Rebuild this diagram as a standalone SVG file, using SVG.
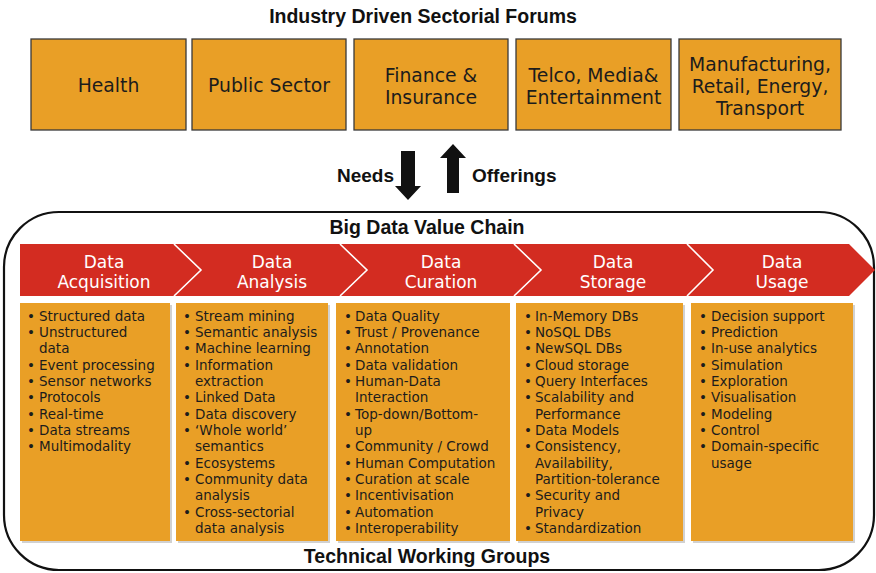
<svg xmlns="http://www.w3.org/2000/svg" width="876" height="573" viewBox="0 0 876 573">
<style>
.title{font-family:"Liberation Sans",Arial,sans-serif;font-weight:bold;font-size:19.5px;fill:#111;text-anchor:middle}
.lbl{font-family:"Liberation Sans",Arial,sans-serif;font-weight:bold;font-size:19px;fill:#111}
.sector{fill:#E99F26;stroke:#3a3a3a;stroke-width:1.3}
.stxt{font-family:"DejaVu Sans",Verdana,sans-serif;font-size:18.8px;fill:#1c1c1c;text-anchor:middle}
.chev{fill:#D32C21}
.sep{fill:none;stroke:#fff;stroke-width:1.6}
.ctxt{font-family:"DejaVu Sans",Verdana,sans-serif;font-size:17px;fill:#fff;text-anchor:middle}
.box{fill:#E99F26}
.shadow{fill:#999;opacity:0.45}
.btxt{font-family:"DejaVu Sans",Verdana,sans-serif;font-size:13.5px;fill:#1c1c1c}
.bul{font-family:"DejaVu Sans",Verdana,sans-serif;font-size:13.5px;fill:#1c1c1c;text-anchor:middle}
.arrow{fill:#111}
</style>

<text class="title" x="423" y="23">Industry Driven Sectorial Forums</text>

<g id="sector-health"><rect class="sector" x="31" y="39" width="155" height="91"/><text class="stxt" x="108.5" y="92">Health</text></g>
<g id="sector-public"><rect class="sector" x="192" y="39" width="154" height="91"/><text class="stxt" x="269" y="92">Public Sector</text></g>
<g id="sector-finance"><rect class="sector" x="354" y="39" width="154" height="91"/><text class="stxt" x="431" y="82">Finance &amp;</text><text class="stxt" x="431" y="104">Insurance</text></g>
<g id="sector-telco"><rect class="sector" x="516" y="39" width="155" height="91"/><text class="stxt" x="593.5" y="82">Telco, Media&amp;</text><text class="stxt" x="593.5" y="104">Entertainment</text></g>
<g id="sector-manufacturing"><rect class="sector" x="679" y="39" width="162" height="91"/><text class="stxt" x="760" y="71">Manufacturing,</text><text class="stxt" x="760" y="93">Retail, Energy,</text><text class="stxt" x="760" y="115">Transport</text></g>

<g id="connectors">
<polygon class="arrow" points="401,151 415,151 415,186 421,186 408,200 395,186 401,186"/>
<polygon class="arrow" points="447,193 459,193 459,158 466,158 453,144 440,158 447,158"/>
</g>
<text class="lbl" x="394" y="182" text-anchor="end">Needs</text>
<text class="lbl" x="472" y="182">Offerings</text>

<g id="value-chain">
<rect x="4" y="212" width="870" height="358" rx="55" ry="55" fill="none" stroke="#111" stroke-width="2.2"/>
<text class="title" x="427" y="234">Big Data Value Chain</text>
</g>

<g id="chain-acquisition"><polygon class="chev" points="20,244 174,244 201,270 174,296 20,296"/><text class="ctxt" x="104" y="268">Data</text><text class="ctxt" x="104" y="288">Acquisition</text></g>
<g id="chain-analysis"><polygon class="chev" points="174,244 340,244 367,270 340,296 174,296 201,270"/><text class="ctxt" x="272" y="268">Data</text><text class="ctxt" x="272" y="288">Analysis</text></g>
<g id="chain-curation"><polygon class="chev" points="340,244 514,244 541,270 514,296 340,296 367,270"/><text class="ctxt" x="441" y="268">Data</text><text class="ctxt" x="441" y="288">Curation</text></g>
<g id="chain-storage"><polygon class="chev" points="514,244 687,244 713,270 687,296 514,296 541,270"/><text class="ctxt" x="613" y="268">Data</text><text class="ctxt" x="613" y="288">Storage</text></g>
<g id="chain-usage"><polygon class="chev" points="687,244 849,244 875,270 849,296 687,296 713,270"/><text class="ctxt" x="782" y="268">Data</text><text class="ctxt" x="782" y="288">Usage</text></g>
<path class="sep" d="M174,244 L201,270 L174,296 M340,244 L367,270 L340,296 M514,244 L541,270 L514,296 M687,244 L713,270 L687,296"/>

<g id="tg-acquisition">
<rect class="shadow" x="22" y="305" width="150" height="238"/>
<rect class="box" x="20" y="303" width="150" height="238"/>
<text class="bul"><tspan x="31" y="320.5">•</tspan><tspan x="31" y="336.85">•</tspan><tspan x="31" y="369.55">•</tspan><tspan x="31" y="385.9">•</tspan><tspan x="31" y="402.25">•</tspan><tspan x="31" y="418.6">•</tspan><tspan x="31" y="434.95">•</tspan><tspan x="31" y="451.3">•</tspan></text>
<text class="btxt"><tspan x="39" y="320.5">Structured data</tspan><tspan x="39" y="336.85">Unstructured</tspan><tspan x="39" y="353.2">data</tspan><tspan x="39" y="369.55">Event processing</tspan><tspan x="39" y="385.9">Sensor networks</tspan><tspan x="39" y="402.25">Protocols</tspan><tspan x="39" y="418.6">Real-time</tspan><tspan x="39" y="434.95">Data streams</tspan><tspan x="39" y="451.3">Multimodality</tspan></text>
</g>

<g id="tg-analysis">
<rect class="shadow" x="178" y="305" width="152" height="238"/>
<rect class="box" x="176" y="303" width="152" height="238"/>
<text class="bul"><tspan x="187" y="320.5">•</tspan><tspan x="187" y="336.85">•</tspan><tspan x="187" y="353.2">•</tspan><tspan x="187" y="369.55">•</tspan><tspan x="187" y="402.25">•</tspan><tspan x="187" y="418.6">•</tspan><tspan x="187" y="434.95">•</tspan><tspan x="187" y="467.65">•</tspan><tspan x="187" y="484">•</tspan><tspan x="187" y="516.7">•</tspan></text>
<text class="btxt"><tspan x="195" y="320.5">Stream mining</tspan><tspan x="195" y="336.85">Semantic analysis</tspan><tspan x="195" y="353.2">Machine learning</tspan><tspan x="195" y="369.55">Information</tspan><tspan x="195" y="385.9">extraction</tspan><tspan x="195" y="402.25">Linked Data</tspan><tspan x="195" y="418.6">Data discovery</tspan><tspan x="195" y="434.95">‘Whole world’</tspan><tspan x="195" y="451.3">semantics</tspan><tspan x="195" y="467.65">Ecosystems</tspan><tspan x="195" y="484">Community data</tspan><tspan x="195" y="500.35">analysis</tspan><tspan x="195" y="516.7">Cross-sectorial</tspan><tspan x="195" y="533.05">data analysis</tspan></text>
</g>

<g id="tg-curation">
<rect class="shadow" x="338" y="305" width="172" height="238"/>
<rect class="box" x="336" y="303" width="174" height="238"/>
<text class="bul"><tspan x="348" y="320.5">•</tspan><tspan x="348" y="336.85">•</tspan><tspan x="348" y="353.2">•</tspan><tspan x="348" y="369.55">•</tspan><tspan x="348" y="385.9">•</tspan><tspan x="348" y="418.6">•</tspan><tspan x="348" y="451.3">•</tspan><tspan x="348" y="467.65">•</tspan><tspan x="348" y="484">•</tspan><tspan x="348" y="500.35">•</tspan><tspan x="348" y="516.7">•</tspan><tspan x="348" y="533.05">•</tspan></text>
<text class="btxt"><tspan x="355" y="320.5">Data Quality</tspan><tspan x="355" y="336.85">Trust / Provenance</tspan><tspan x="355" y="353.2">Annotation</tspan><tspan x="355" y="369.55">Data validation</tspan><tspan x="355" y="385.9">Human-Data</tspan><tspan x="355" y="402.25">Interaction</tspan><tspan x="355" y="418.6">Top-down/Bottom-</tspan><tspan x="355" y="434.95">up</tspan><tspan x="355" y="451.3">Community / Crowd</tspan><tspan x="355" y="467.65">Human Computation</tspan><tspan x="355" y="484">Curation at scale</tspan><tspan x="355" y="500.35">Incentivisation</tspan><tspan x="355" y="516.7">Automation</tspan><tspan x="355" y="533.05">Interoperability</tspan></text>
</g>

<g id="tg-storage">
<rect class="shadow" x="518" y="305" width="167" height="238"/>
<rect class="box" x="516" y="303" width="167" height="238"/>
<text class="bul"><tspan x="528" y="320.5">•</tspan><tspan x="528" y="336.85">•</tspan><tspan x="528" y="353.2">•</tspan><tspan x="528" y="369.55">•</tspan><tspan x="528" y="385.9">•</tspan><tspan x="528" y="402.25">•</tspan><tspan x="528" y="434.95">•</tspan><tspan x="528" y="451.3">•</tspan><tspan x="528" y="500.35">•</tspan><tspan x="528" y="533.05">•</tspan></text>
<text class="btxt"><tspan x="535" y="320.5">In-Memory DBs</tspan><tspan x="535" y="336.85">NoSQL DBs</tspan><tspan x="535" y="353.2">NewSQL DBs</tspan><tspan x="535" y="369.55">Cloud storage</tspan><tspan x="535" y="385.9">Query Interfaces</tspan><tspan x="535" y="402.25">Scalability and</tspan><tspan x="535" y="418.6">Performance</tspan><tspan x="535" y="434.95">Data Models</tspan><tspan x="535" y="451.3">Consistency,</tspan><tspan x="535" y="467.65">Availability,</tspan><tspan x="535" y="484">Partition-tolerance</tspan><tspan x="535" y="500.35">Security and</tspan><tspan x="535" y="516.7">Privacy</tspan><tspan x="535" y="533.05">Standardization</tspan></text>
</g>

<g id="tg-usage">
<rect class="shadow" x="693" y="305" width="162" height="238"/>
<rect class="box" x="691" y="303" width="162" height="238"/>
<text class="bul"><tspan x="703" y="320.5">•</tspan><tspan x="703" y="336.85">•</tspan><tspan x="703" y="353.2">•</tspan><tspan x="703" y="369.55">•</tspan><tspan x="703" y="385.9">•</tspan><tspan x="703" y="402.25">•</tspan><tspan x="703" y="418.6">•</tspan><tspan x="703" y="434.95">•</tspan><tspan x="703" y="451.3">•</tspan></text>
<text class="btxt"><tspan x="711" y="320.5">Decision support</tspan><tspan x="711" y="336.85">Prediction</tspan><tspan x="711" y="353.2">In-use analytics</tspan><tspan x="711" y="369.55">Simulation</tspan><tspan x="711" y="385.9">Exploration</tspan><tspan x="711" y="402.25">Visualisation</tspan><tspan x="711" y="418.6">Modeling</tspan><tspan x="711" y="434.95">Control</tspan><tspan x="711" y="451.3">Domain-specific</tspan><tspan x="711" y="467.65">usage</tspan></text>
</g>

<text class="title" x="427" y="563">Technical Working Groups</text>
</svg>
